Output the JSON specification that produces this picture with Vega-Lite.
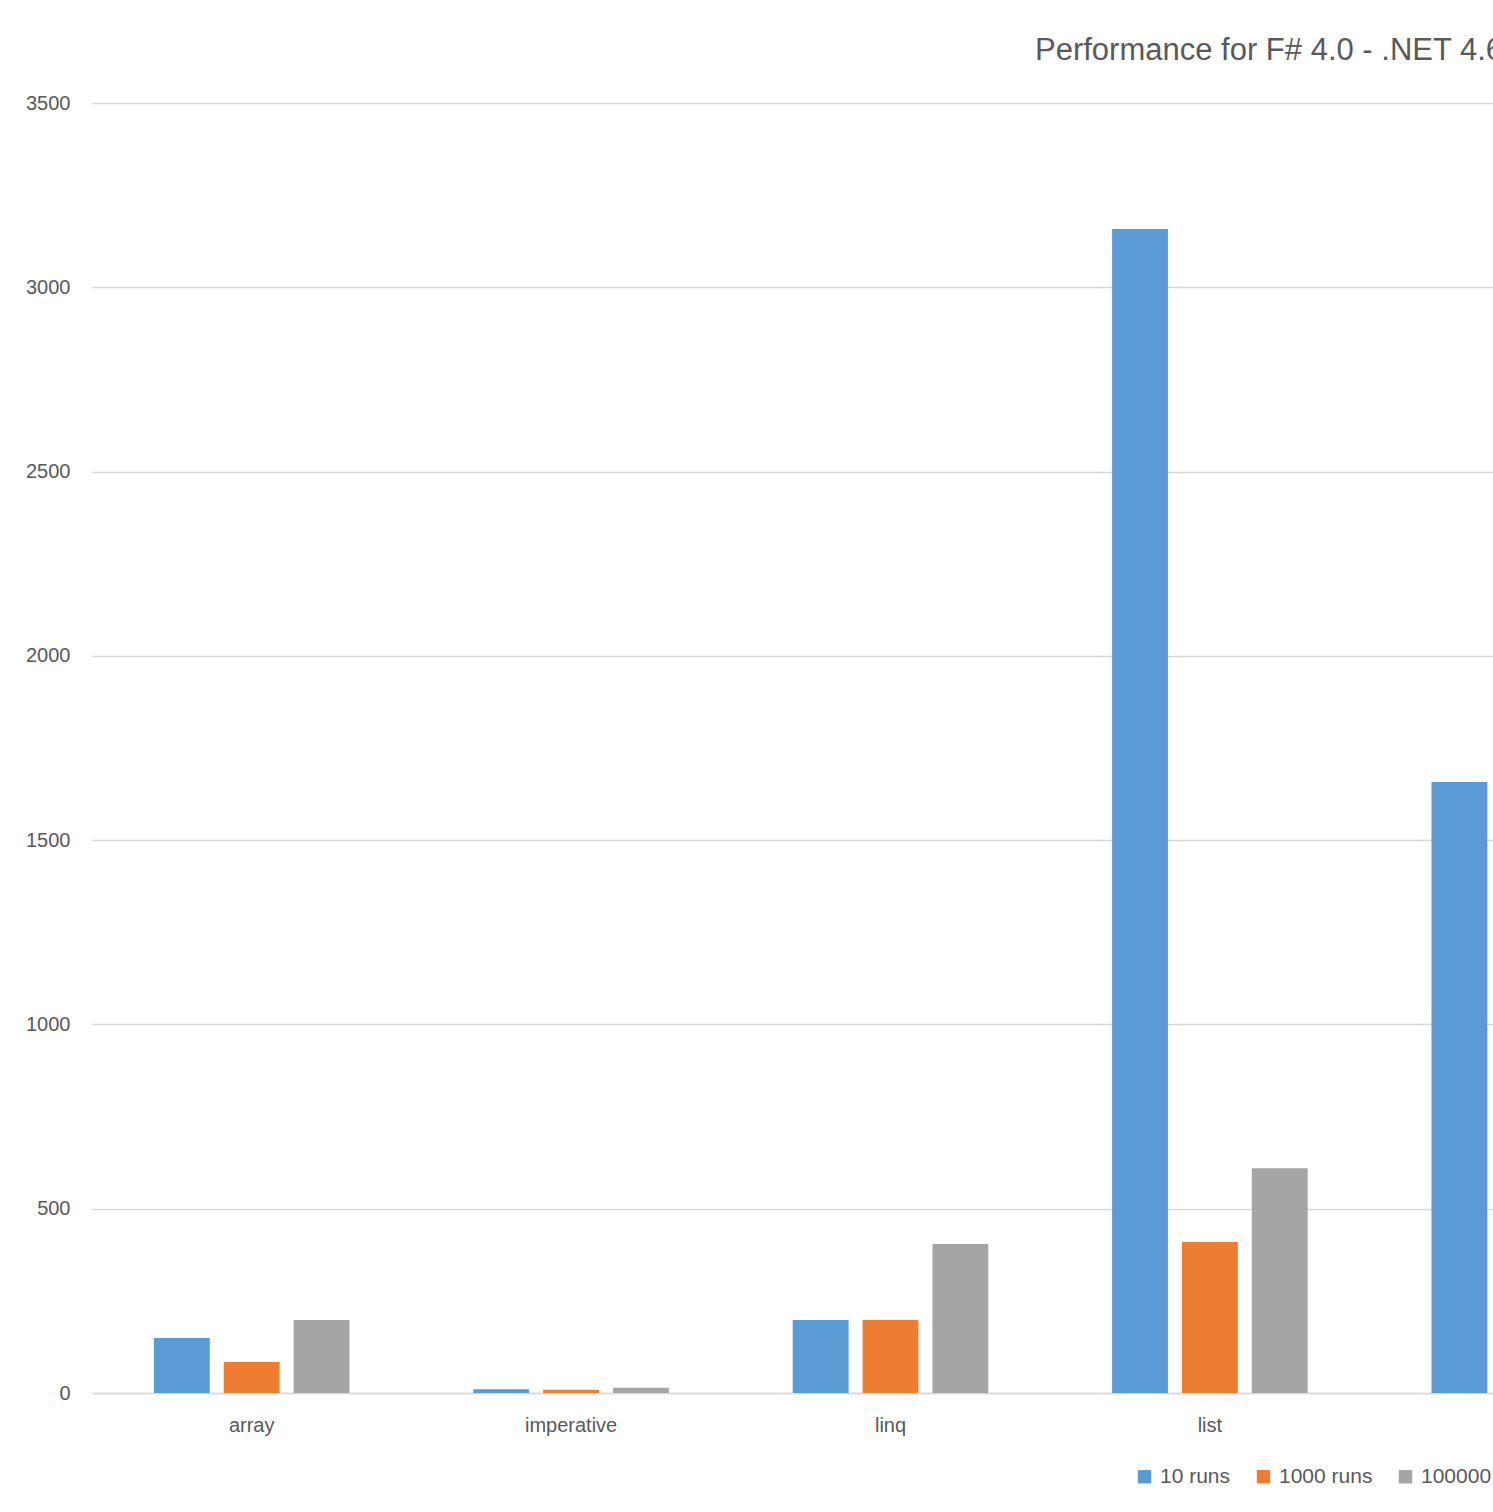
{
  "$schema": "https://vega.github.io/schema/vega-lite/v6.json",
  "autosize": {"type": "none"},
  "width": 1401,
  "height": 1290,
  "padding": {"left": 92, "top": 103, "right": 0, "bottom": 119},
  "background": "white",
  "title": {
    "text": "Performance for F# 4.0 - .NET 4.6",
    "anchor": "start",
    "frame": "group",
    "dx": 943,
    "font": "Liberation Sans",
    "fontSize": 31,
    "fontWeight": "normal",
    "color": "#595959",
    "offset": 26
  },
  "data": {
    "values": [
      {"test": "array", "series": "10 runs", "time": 149},
      {"test": "array", "series": "1000 runs", "time": 84},
      {"test": "array", "series": "100000 runs", "time": 198},
      {"test": "imperative", "series": "10 runs", "time": 10},
      {"test": "imperative", "series": "1000 runs", "time": 9},
      {"test": "imperative", "series": "100000 runs", "time": 14},
      {"test": "linq", "series": "10 runs", "time": 198},
      {"test": "linq", "series": "1000 runs", "time": 198},
      {"test": "linq", "series": "100000 runs", "time": 404},
      {"test": "list", "series": "10 runs", "time": 3158},
      {"test": "list", "series": "1000 runs", "time": 410},
      {"test": "list", "series": "100000 runs", "time": 610},
      {"test": "seq", "series": "10 runs", "time": 1658}
    ]
  },
  "mark": {"type": "bar", "clip": true},
  "encoding": {
    "x": {
      "field": "test",
      "type": "nominal",
      "sort": ["array", "imperative", "linq", "list", "seq"],
      "scale": {"range": [0, 1597], "paddingInner": 0, "paddingOuter": 0},
      "axis": {
        "title": null,
        "labelAngle": 0,
        "ticks": false,
        "domain": true,
        "domainColor": "#D9D9D9",
        "domainWidth": 1.5,
        "labelFont": "Liberation Sans",
        "labelFontSize": 20,
        "labelColor": "#595959",
        "labelPadding": 22
      }
    },
    "xOffset": {
      "field": "series",
      "type": "nominal",
      "sort": ["10 runs", "1000 runs", "100000 runs"],
      "scale": {"paddingInner": 0.2, "paddingOuter": 0.886}
    },
    "y": {
      "field": "time",
      "type": "quantitative",
      "scale": {"domain": [0, 3500], "nice": false},
      "axis": {
        "title": null,
        "values": [0, 500, 1000, 1500, 2000, 2500, 3000, 3500],
        "format": "d",
        "ticks": false,
        "domain": false,
        "grid": true,
        "gridColor": "#D9D9D9",
        "gridWidth": 1.5,
        "labelFont": "Liberation Sans",
        "labelFontSize": 20,
        "labelColor": "#595959",
        "labelPadding": 22
      }
    },
    "color": {
      "field": "series",
      "type": "nominal",
      "sort": ["10 runs", "1000 runs", "100000 runs"],
      "scale": {"domain": ["10 runs", "1000 runs", "100000 runs"], "range": ["#5B9BD5", "#ED7D31", "#A5A5A5"]},
      "legend": {
        "title": null,
        "orient": "none",
        "direction": "horizontal",
        "legendX": 1042,
        "legendY": 1363,
        "symbolType": "square",
        "symbolSize": 180,
        "symbolStrokeWidth": 0,
        "symbolOpacity": 1,
        "labelFont": "Liberation Sans",
        "labelFontSize": 21,
        "labelColor": "#595959",
        "labelOffset": 5,
        "columnPadding": 22
      }
    }
  },
  "config": {"view": {"stroke": null}}
}
